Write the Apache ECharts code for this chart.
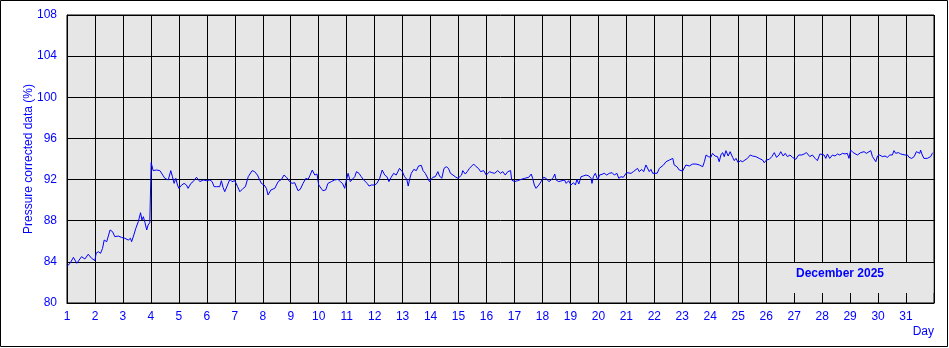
<!DOCTYPE html>
<html>
<head>
<meta charset="utf-8">
<script src="https://cdn.jsdelivr.net/npm/echarts@6/dist/echarts.min.js"></script>
<style>
html,body{margin:0;padding:0;background:#fff;}
#chart{width:949px;height:348px;}
</style>
</head>
<body>
<div id="chart"></div>
<script>
const yTicks = [80, 84, 88, 92, 96, 100, 104, 108];
const xTickLabels = ['1','2','3','4','5','6','7','8','9','10','11','12','13','14','15','16','17','18','19','20','21','22','23','24','25','26','27','28','29','30','31'];
const yAxisTitle = 'Pressure corrected data (%)';
const xAxisTitle = 'Day';
const periodLabel = 'December 2025';

const dayPos = [
1.01,1.11,1.23,1.35,1.52,1.64,1.76,1.88,1.94,2.00,2.04,2.12,2.20,2.27,2.33,2.42,2.54,2.63,2.71,2.83,2.95,
3.07,3.13,3.19,3.27,3.31,3.39,3.46,3.55,3.63,3.68,3.73,3.79,3.85,3.90,3.96,4.00,4.01,4.08,4.20,4.32,4.38,
4.50,4.62,4.71,4.77,4.83,4.89,4.95,5.00,5.10,5.19,5.27,5.33,5.43,5.51,5.63,5.75,5.87,5.99,6.11,6.19,6.26,
6.35,6.46,6.52,6.58,6.64,6.74,6.82,6.90,7.00,7.10,7.18,7.30,7.38,7.48,7.62,7.71,7.81,7.89,7.95,8.05,8.13,
8.19,8.29,8.43,8.55,8.67,8.76,8.85,8.96,9.05,9.14,9.20,9.26,9.34,9.44,9.54,9.62,9.68,9.77,9.86,9.94,10.00,
10.06,10.15,10.25,10.33,10.45,10.57,10.69,10.77,10.85,10.93,10.99,11.05,11.13,11.20,11.29,11.35,11.44,11.52,
11.61,11.73,11.80,11.88,12.00,12.08,12.18,12.27,12.36,12.44,12.51,12.59,12.68,12.77,12.89,12.99,13.07,13.15,
13.20,13.25,13.31,13.40,13.49,13.57,13.67,13.73,13.81,13.88,13.96,14.02,14.08,14.17,14.26,14.32,14.40,14.48,
14.56,14.64,14.71,14.80,14.88,14.98,15.04,15.11,15.15,15.24,15.31,15.39,15.45,15.54,15.63,15.71,15.79,15.83,
15.90,15.99,16.11,16.19,16.29,16.36,16.40,16.50,16.58,16.67,16.76,16.86,16.90,17.00,17.11,17.18,17.24,17.36,
17.42,17.51,17.60,17.65,17.71,17.77,17.87,17.95,18.04,18.13,18.23,18.31,18.39,18.44,18.49,18.58,18.70,18.79,
18.85,18.94,19.02,19.11,19.18,19.23,19.30,19.38,19.46,19.56,19.66,19.74,19.77,19.82,19.89,19.98,20.04,20.13,
20.21,20.30,20.39,20.49,20.57,20.66,20.73,20.81,20.89,20.96,21.01,21.08,21.17,21.25,21.32,21.40,21.46,21.55,
21.62,21.70,21.76,21.82,21.88,21.94,22.00,22.10,22.18,22.24,22.33,22.42,22.54,22.66,22.71,22.81,22.89,23.01,
23.13,23.25,23.37,23.49,23.61,23.73,23.79,23.85,23.93,24.02,24.08,24.17,24.26,24.32,24.38,24.44,24.50,24.56,
24.64,24.71,24.80,24.86,24.92,25.00,25.07,25.16,25.24,25.33,25.43,25.51,25.57,25.63,25.75,25.87,25.93,26.01,
26.11,26.20,26.29,26.37,26.46,26.52,26.61,26.68,26.76,26.85,26.94,27.00,27.06,27.16,27.27,27.36,27.44,27.51,
27.56,27.65,27.75,27.83,27.92,27.99,28.07,28.13,28.19,28.27,28.37,28.46,28.55,28.63,28.73,28.82,28.90,28.96,
29.02,29.11,29.18,29.26,29.38,29.50,29.58,29.65,29.74,29.80,29.86,29.92,29.98,30.06,30.15,30.25,30.33,30.42,
30.51,30.57,30.63,30.73,30.81,30.87,30.96,31.05,31.11,31.20,31.29,31.37,31.44,31.49,31.52,31.58,31.64,31.70,
31.76,31.82,31.88,31.94,31.96
];

const pressure = [
83.60,83.86,84.44,83.86,84.50,84.28,84.74,84.34,84.50,84.12,84.83,84.99,84.83,85.31,86.12,85.96,87.10,86.93,86.45,86.51,86.38,
86.29,86.45,86.12,86.29,85.96,86.61,87.26,87.91,88.78,88.07,88.39,87.81,87.10,87.58,87.81,87.75,93.64,92.87,92.93,92.87,92.99,
92.12,91.96,92.87,92.28,91.63,92.12,91.47,91.15,91.47,91.63,91.47,91.15,91.63,91.80,92.22,91.80,91.96,91.89,91.96,91.80,91.31,
91.31,91.31,91.89,91.24,90.82,91.47,92.02,91.80,91.89,91.31,90.82,91.15,91.31,92.28,92.87,92.77,92.44,91.96,91.63,91.47,91.15,
90.50,90.99,91.15,91.80,92.02,92.44,92.22,91.80,91.63,91.70,91.63,90.92,91.05,91.63,92.12,92.02,92.35,92.93,92.44,92.54,91.47,
91.63,90.92,90.99,91.63,91.80,91.96,92.02,91.80,91.63,91.15,91.96,92.61,91.80,92.02,92.28,92.77,92.61,92.28,
91.96,91.63,91.37,91.47,91.47,91.63,92.12,92.93,92.44,92.28,91.80,92.22,92.61,92.44,93.09,92.77,92.28,92.02,
91.37,92.02,92.61,92.99,92.87,93.32,93.38,92.87,92.61,92.44,91.80,91.96,92.22,92.28,92.77,92.35,92.12,93.09,
93.25,93.09,92.61,92.44,92.28,92.12,92.22,92.44,92.87,92.54,92.77,93.09,93.25,93.51,93.25,93.09,92.77,92.61,
92.87,92.44,92.77,92.67,92.61,92.44,92.87,92.61,92.77,92.44,92.77,92.87,91.96,91.80,91.89,91.96,92.02,92.12,
92.22,92.22,92.54,92.12,91.47,91.15,91.47,91.80,92.22,92.12,91.80,91.96,92.22,92.54,91.96,91.80,91.89,91.96,
91.63,91.89,91.47,91.70,91.47,92.02,91.57,92.28,92.35,92.44,92.35,92.12,91.63,92.28,92.61,91.96,92.44,92.51,
92.61,92.44,92.61,92.67,92.44,92.61,92.12,92.28,92.22,92.12,92.67,92.61,92.61,92.77,92.93,93.09,92.77,92.99,
92.77,93.42,93.25,92.77,92.99,92.61,92.44,92.61,93.09,92.93,93.42,93.74,93.90,94.06,93.42,93.25,92.93,92.83,
93.42,93.32,93.51,93.51,93.42,93.25,93.74,94.39,94.23,94.16,94.55,94.29,94.23,93.74,94.39,94.62,94.23,94.81,
94.29,94.71,94.16,93.84,94.06,93.64,93.84,93.74,93.90,94.06,94.39,94.29,94.23,94.23,94.06,93.90,93.64,93.90,
93.97,94.23,94.62,94.16,94.39,94.71,94.29,94.55,94.23,94.39,94.16,94.06,93.97,94.39,94.39,94.49,94.62,94.71,
94.23,94.39,94.06,93.84,94.49,94.62,94.39,94.06,94.49,94.06,94.39,94.29,94.49,94.39,94.55,94.49,94.55,94.06,
94.87,94.62,94.71,94.39,94.62,94.71,94.55,94.39,94.81,94.23,94.06,93.74,94.29,94.39,94.23,94.29,94.16,94.39,
94.39,94.81,94.55,94.62,94.49,94.55,94.39,94.39,94.16,94.06,94.23,94.71,94.87,94.55,94.87,94.39,94.06,94.23,
94.06,94.06,94.23,94.55,94.62
];

const FONT = "Arial, 'Liberation Sans', sans-serif";
const BLUE = '#0000ff';

const seriesData = dayPos.map((d, i) => [d, pressure[i]]);

const chart = echarts.init(document.getElementById('chart'), null, {renderer: 'canvas'});
chart.setOption({
  animation: false,
  backgroundColor: '#ffffff',
  grid: {
    left: 67, right: 15, top: 15, bottom: 45,
    show: true,
    backgroundColor: '#e6e6e6',
    borderColor: '#000000',
    borderWidth: 1
  },
  xAxis: {
    type: 'value',
    min: 1, max: 32, interval: 1,
    axisLine: {show: true, lineStyle: {color: '#000', width: 1}},
    axisTick: {show: false},
    splitLine: {show: true, lineStyle: {color: '#000', width: 1}},
    axisLabel: {
      color: BLUE, fontFamily: FONT, fontSize: 12, margin: 8,
      formatter: function (v) { const i = Math.round(v) - 1; return xTickLabels[i] !== undefined ? xTickLabels[i] : ''; }
    }
  },
  yAxis: {
    type: 'value',
    min: yTicks[0], max: yTicks[yTicks.length - 1], interval: 4,
    name: yAxisTitle,
    nameLocation: 'middle',
    nameGap: 38,
    nameMoveOverlap: false,
    nameTextStyle: {color: BLUE, fontFamily: FONT, fontSize: 12, verticalAlign: 'middle'},
    axisLine: {show: true, lineStyle: {color: '#000', width: 1}},
    axisTick: {show: false},
    splitLine: {show: true, lineStyle: {color: '#000', width: 1}},
    axisLabel: {color: BLUE, fontFamily: FONT, fontSize: 12, margin: 10}
  },
  series: [{
    type: 'line',
    data: seriesData,
    showSymbol: false,
    symbol: 'none',
    lineStyle: {color: BLUE, width: 1},
    z: 5
  }],
  graphic: [
    {
      type: 'rect', z: 3,
      shape: {x: 768, y: 263, width: 165.5, height: 30},
      style: {fill: '#e6e6e6'}
    },
    {
      type: 'text', z: 4,
      x: 840, y: 274,
      style: {text: periodLabel, fill: BLUE, font: 'bold 12px ' + FONT, align: 'center', verticalAlign: 'middle'}
    },
    {
      type: 'text', z: 4,
      x: 934, y: 332,
      style: {text: xAxisTitle, fill: BLUE, font: '12px ' + FONT, align: 'right', verticalAlign: 'middle'}
    },
    {
      type: 'rect', z: 10,
      shape: {x: 0.5, y: 0.5, width: 947, height: 346},
      style: {fill: 'none', stroke: '#000', lineWidth: 1}
    }
  ]
});
</script>
</body>
</html>
